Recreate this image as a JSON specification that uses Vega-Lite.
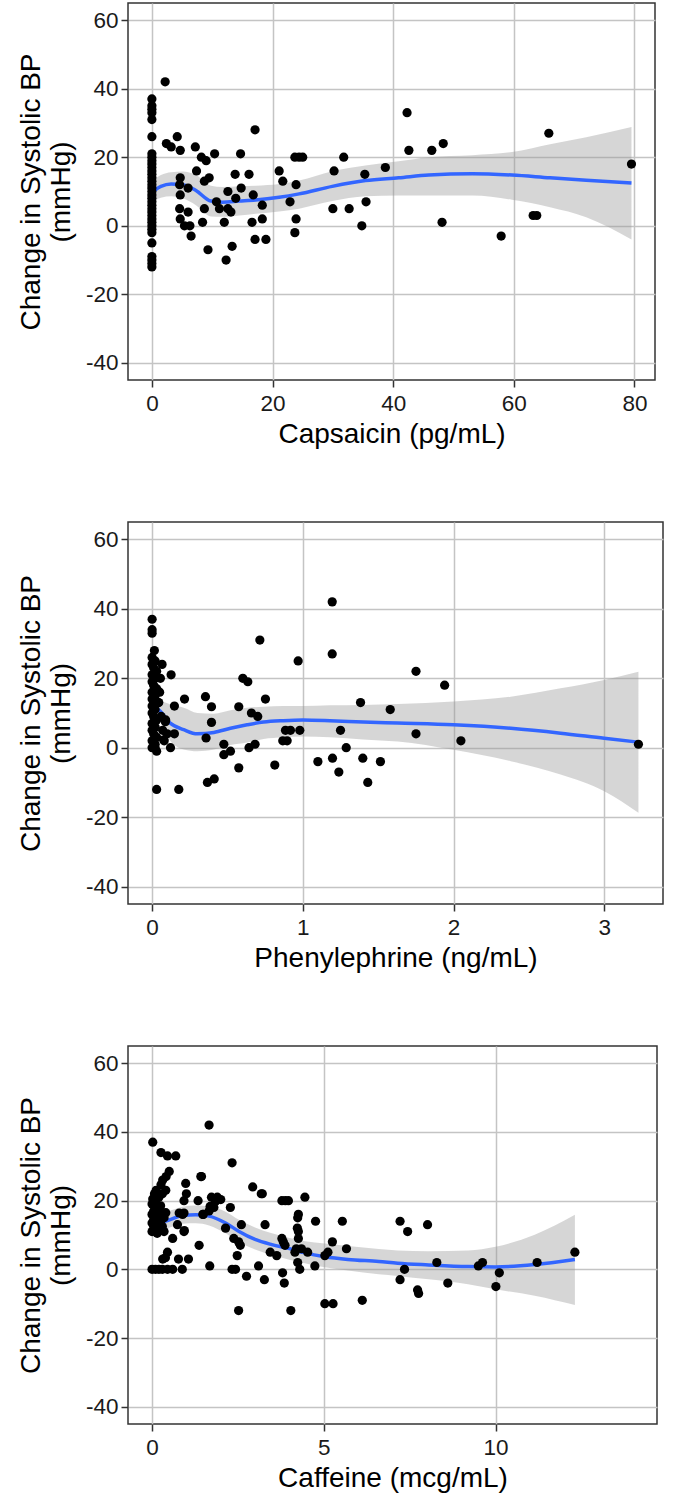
{
  "$schema": "https://vega.github.io/schema/vega-lite/v6.json",
  "background": "white",
  "padding": {"left": 16, "top": 2, "right": 5, "bottom": 5},
  "bounds": "flush",
  "spacing": 142,
  "config": {
    "font": "Liberation Sans",
    "view": {"stroke": "#333333", "strokeWidth": 1.5},
    "axis": {
      "domain": false, "grid": true, "gridColor": "#c4c4c4", "gridWidth": 1.5,
      "ticks": true, "tickColor": "#333333", "tickWidth": 1.5, "tickSize": 7,
      "labelFont": "Liberation Sans", "labelFontSize": 22.5, "labelColor": "#1a1a1a", "labelPadding": 3,
      "titleFont": "Liberation Sans", "titleFontSize": 28, "titleFontWeight": "normal", "titleColor": "#000000",
      "titleLineHeight": 30,
      "labelExpr": "replace(datum.label, '\u2212', '-')"
    },
    "axisX": {"titlePadding": 6, "labelPadding": 5},
    "axisY": {"titlePadding": 10}
  },
  "datasets": {
    "p1": [
      {"x":0,"y":37},{"x":0,"y":35},{"x":0,"y":34},{"x":0,"y":33},{"x":0,"y":31},{"x":0,"y":26},
      {"x":0,"y":21},{"x":0,"y":20},{"x":0,"y":19},{"x":0,"y":18},{"x":0,"y":17},{"x":0,"y":16},{"x":0,"y":15},
      {"x":0,"y":14},{"x":0,"y":13},{"x":0,"y":12},{"x":0,"y":11},{"x":0,"y":10},{"x":0,"y":9},{"x":0,"y":8},
      {"x":0,"y":7},{"x":0,"y":6},{"x":0,"y":5},{"x":0,"y":4},{"x":0,"y":3},{"x":0,"y":2},{"x":0,"y":1},
      {"x":0,"y":0},{"x":0,"y":-1},{"x":0,"y":-2},{"x":0,"y":-5},{"x":0,"y":-9},{"x":0,"y":-10},{"x":0,"y":-11},{"x":0,"y":-12},
      {"x":2.2,"y":42},{"x":2.4,"y":24},{"x":3.2,"y":23},{"x":4.2,"y":26},{"x":4.7,"y":22},{"x":4.7,"y":14},
      {"x":4.6,"y":12},{"x":6.0,"y":11},{"x":4.7,"y":9},{"x":4.6,"y":5},{"x":6.0,"y":4},{"x":4.7,"y":2},
      {"x":5.4,"y":0},{"x":6.3,"y":0},{"x":6.5,"y":-3},{"x":7.2,"y":23},{"x":7.4,"y":16},{"x":8.2,"y":20},
      {"x":9.0,"y":19},{"x":10.4,"y":21},{"x":8.7,"y":13},{"x":9.5,"y":14},{"x":8.7,"y":5},{"x":8.4,"y":1},
      {"x":9.3,"y":-7},{"x":10.7,"y":7},{"x":11.2,"y":5},{"x":12.0,"y":1},{"x":12.3,"y":-10},{"x":13.3,"y":-6},
      {"x":12.6,"y":10},{"x":13.1,"y":4},{"x":12.6,"y":5},{"x":13.8,"y":15},{"x":14.7,"y":21},{"x":14.8,"y":11},
      {"x":13.9,"y":8},{"x":16.1,"y":15},{"x":16.8,"y":9},{"x":17.1,"y":28},{"x":16.6,"y":1},{"x":17.1,"y":-4},
      {"x":18.3,"y":6},{"x":18.3,"y":2},{"x":18.9,"y":-4},{"x":21.1,"y":16},{"x":21.7,"y":13},{"x":22.9,"y":7},
      {"x":23.9,"y":12},{"x":23.9,"y":2},{"x":23.7,"y":-2},{"x":23.7,"y":20},{"x":24.4,"y":20},{"x":25.0,"y":20},
      {"x":30.0,"y":5},{"x":30.2,"y":16},{"x":31.8,"y":20},{"x":32.7,"y":5},{"x":34.8,"y":0},{"x":35.3,"y":15},
      {"x":35.5,"y":7},{"x":38.7,"y":17},{"x":42.3,"y":33},{"x":42.6,"y":22},{"x":46.4,"y":22},{"x":48.3,"y":24},
      {"x":48.1,"y":1},{"x":57.9,"y":-3},{"x":63.2,"y":3},{"x":63.8,"y":3},{"x":65.8,"y":27},{"x":79.5,"y":18}
    ],
    "s1": [
      {"x":0,"y":9.8,"lo":7.0,"hi":13.0},{"x":1.5,"y":11.5,"lo":8.2,"hi":14.8},{"x":3.2,"y":12.2,"lo":8.6,"hi":15.6},
      {"x":5.1,"y":12.0,"lo":8.0,"hi":15.8},{"x":7.3,"y":10.3,"lo":6.0,"hi":14.8},{"x":9.8,"y":7.2,"lo":2.7,"hi":11.7},
      {"x":11.7,"y":6.9,"lo":2.6,"hi":11.3},{"x":14.5,"y":7.2,"lo":3.0,"hi":11.5},{"x":17.2,"y":7.5,"lo":3.5,"hi":11.7},
      {"x":21.1,"y":8.3,"lo":4.2,"hi":12.2},{"x":24.4,"y":9.3,"lo":5.0,"hi":13.2},{"x":29.9,"y":11.5,"lo":7.2,"hi":15.9},
      {"x":35.4,"y":13.2,"lo":8.6,"hi":17.6},{"x":40.9,"y":14.0,"lo":8.8,"hi":18.8},{"x":45.9,"y":14.8,"lo":8.8,"hi":20.0},
      {"x":53.1,"y":15.2,"lo":8.8,"hi":20.6},{"x":59.7,"y":14.8,"lo":7.6,"hi":21.5},{"x":66,"y":14.0,"lo":5.4,"hi":23.8},
      {"x":72,"y":13.3,"lo":2.5,"hi":25.8},{"x":79.5,"y":12.5,"lo":-4.0,"hi":28.8}
    ],
    "p2": [
      {"x":0,"y":37},{"x":0,"y":34},{"x":0,"y":33},{"x":0.015,"y":28},{"x":0,"y":26},{"x":0.02,"y":25},{"x":0,"y":24},
      {"x":0.01,"y":23},{"x":0.03,"y":22},{"x":0,"y":21},{"x":0.02,"y":20},{"x":0,"y":19},{"x":0.01,"y":18},
      {"x":0.03,"y":17},{"x":0,"y":16},{"x":0.02,"y":15},{"x":0,"y":14},{"x":0.01,"y":13},{"x":0.04,"y":13},
      {"x":0,"y":12},{"x":0.02,"y":11},{"x":0,"y":10},{"x":0.01,"y":9},{"x":0.03,"y":8},{"x":0,"y":7},{"x":0.02,"y":6},
      {"x":0,"y":5},{"x":0.01,"y":4},{"x":0.03,"y":3},{"x":0,"y":2},{"x":0.02,"y":1},{"x":0,"y":0},{"x":0.03,"y":-1},
      {"x":0.02,"y":0},{"x":0.03,"y":-12},
      {"x":0.066,"y":24},{"x":0.055,"y":20},{"x":0.126,"y":21},{"x":0.148,"y":12},{"x":0.044,"y":13},{"x":0.088,"y":7.5},
      {"x":0.148,"y":4},{"x":0.122,"y":0},{"x":0.077,"y":2.3},{"x":0.177,"y":-12},{"x":0.215,"y":14},{"x":0.06,"y":9},
      {"x":0.07,"y":5},{"x":0.05,"y":16},{"x":0.09,"y":8},{"x":0.1,"y":4},{"x":0.08,"y":2},
      {"x":0.354,"y":14.7},{"x":0.394,"y":11.8},{"x":0.394,"y":7.3},{"x":0.358,"y":2.8},{"x":0.367,"y":-10},
      {"x":0.412,"y":-9},{"x":0.476,"y":1},{"x":0.476,"y":-2},{"x":0.52,"y":-1},{"x":0.575,"y":11.8},{"x":0.575,"y":-5.8},
      {"x":0.602,"y":20},{"x":0.635,"y":19},{"x":0.659,"y":10},{"x":0.701,"y":9},{"x":0.715,"y":31},{"x":0.643,"y":0},
      {"x":0.683,"y":1},{"x":0.752,"y":14},{"x":0.814,"y":-5},{"x":0.867,"y":2},{"x":0.896,"y":2},{"x":0.885,"y":5},
      {"x":0.918,"y":5},{"x":0.98,"y":5},{"x":0.969,"y":25},{"x":1.1,"y":-4},{"x":1.195,"y":42},{"x":1.195,"y":27},
      {"x":1.197,"y":-3},{"x":1.239,"y":-7},{"x":1.25,"y":5},{"x":1.288,"y":0},{"x":1.383,"y":13},{"x":1.398,"y":-3},
      {"x":1.431,"y":-10},{"x":1.515,"y":-4},{"x":1.58,"y":11},{"x":1.751,"y":22},{"x":1.751,"y":4},{"x":1.941,"y":18},
      {"x":2.049,"y":2},{"x":3.227,"y":1}
    ],
    "s2": [
      {"x":0,"y":12.0,"lo":9.0,"hi":15.0},{"x":0.044,"y":10.9,"lo":8.0,"hi":13.8},{"x":0.12,"y":7.1,"lo":2.0,"hi":12.5},
      {"x":0.21,"y":5.2,"lo":-0.5,"hi":11.5},{"x":0.3,"y":4.0,"lo":-1.0,"hi":10.0},{"x":0.41,"y":4.4,"lo":-0.5,"hi":9.8},
      {"x":0.52,"y":5.6,"lo":0.8,"hi":10.8},{"x":0.63,"y":6.6,"lo":1.5,"hi":11.5},{"x":0.74,"y":7.4,"lo":2.5,"hi":11.8},
      {"x":0.87,"y":7.8,"lo":3.0,"hi":12.0},{"x":1.0,"y":8.0,"lo":3.2,"hi":12.0},{"x":1.18,"y":7.8,"lo":3.0,"hi":12.2},
      {"x":1.4,"y":7.4,"lo":2.4,"hi":12.3},{"x":1.63,"y":7.1,"lo":1.8,"hi":12.6},{"x":2.0,"y":6.6,"lo":-0.6,"hi":13.3},
      {"x":2.38,"y":5.6,"lo":-3.9,"hi":14.7},{"x":2.71,"y":4.2,"lo":-7.7,"hi":17.1},{"x":3.0,"y":2.7,"lo":-12.5,"hi":19.5},
      {"x":3.227,"y":1.6,"lo":-18.7,"hi":21.9}
    ],
    "p3": [
      {"x":0.02,"y":37},{"x":0.26,"y":34},{"x":0.45,"y":33},{"x":0.69,"y":33},{"x":0.5,"y":28.5},{"x":0.41,"y":27},
      {"x":0.31,"y":26},{"x":0.26,"y":24.6},{"x":0.12,"y":23},{"x":0.07,"y":22},{"x":0.02,"y":20.5},
      {"x":0,"y":19},{"x":0.1,"y":18},{"x":0.2,"y":17.5},{"x":0.05,"y":17},{"x":0.3,"y":16.5},{"x":0,"y":16},
      {"x":0.15,"y":15.5},{"x":0.35,"y":15},{"x":0.05,"y":14.5},{"x":0.25,"y":14},{"x":0,"y":13.5},{"x":0.1,"y":13},
      {"x":0.3,"y":12.5},{"x":0.05,"y":12},{"x":0.2,"y":11.5},{"x":0,"y":11},{"x":0.15,"y":10.5},{"x":0.35,"y":11},
      {"x":0.1,"y":20},{"x":0.2,"y":21},{"x":0.3,"y":22},{"x":0.4,"y":23},{"x":0.25,"y":18.5},{"x":0.4,"y":16.5},
      {"x":0,"y":0},{"x":0.1,"y":0},{"x":0.2,"y":0},{"x":0.3,"y":0},{"x":0.45,"y":0},{"x":0.6,"y":0},{"x":0.88,"y":0},
      {"x":0.31,"y":3},{"x":0.45,"y":5},{"x":0.39,"y":3.4},{"x":0.6,"y":9},{"x":0.74,"y":13},{"x":0.79,"y":16.4},
      {"x":0.93,"y":16.4},{"x":0.93,"y":11},{"x":0.98,"y":25},{"x":1.0,"y":22},{"x":0.93,"y":20},{"x":0.77,"y":3},
      {"x":1.06,"y":3},{"x":1.37,"y":7},{"x":1.34,"y":20},{"x":1.44,"y":27},{"x":1.48,"y":16},{"x":1.66,"y":42},
      {"x":1.68,"y":1},{"x":1.8,"y":18},{"x":1.9,"y":21},{"x":1.85,"y":19.8},{"x":2.0,"y":20.3},{"x":2.14,"y":12},
      {"x":2.28,"y":18},{"x":2.33,"y":31},{"x":2.6,"y":13},{"x":2.38,"y":9},{"x":2.52,"y":8},{"x":2.57,"y":7},
      {"x":2.48,"y":4},{"x":2.33,"y":0},{"x":2.43,"y":0},{"x":2.52,"y":-12},{"x":2.75,"y":-2},{"x":2.93,"y":24},
      {"x":3.18,"y":22},{"x":3.29,"y":13},{"x":3.1,"y":1},{"x":3.27,"y":-3},{"x":3.44,"y":5},{"x":3.63,"y":4},
      {"x":3.78,"y":9},{"x":3.82,"y":8},{"x":3.87,"y":7},{"x":3.78,"y":20},{"x":3.88,"y":20},{"x":3.97,"y":20},
      {"x":3.8,"y":-1},{"x":3.85,"y":-4},{"x":4.04,"y":-12},{"x":4.26,"y":16},{"x":4.24,"y":15},{"x":4.23,"y":12},
      {"x":4.26,"y":11},{"x":4.26,"y":9},{"x":4.2,"y":6},{"x":4.16,"y":5},{"x":4.24,"y":2},{"x":4.3,"y":0},
      {"x":4.45,"y":21},{"x":4.35,"y":6},{"x":4.53,"y":5},{"x":4.74,"y":1},{"x":4.76,"y":14},{"x":5.03,"y":-10},
      {"x":5.27,"y":-10},{"x":5.03,"y":4},{"x":5.12,"y":5},{"x":5.25,"y":8},{"x":5.54,"y":14},{"x":5.66,"y":6},
      {"x":6.12,"y":-9},{"x":3.21,"y":22},{"x":0.94,"y":11.3},{"x":1.49,"y":16},{"x":1.73,"y":21},{"x":1.69,"y":18.3},
      {"x":1.66,"y":17},{"x":0.89,"y":16},{"x":1.42,"y":27},{"x":7.22,"y":14},{"x":7.44,"y":11},{"x":8.02,"y":13},
      {"x":7.35,"y":0},{"x":7.22,"y":-3},{"x":7.73,"y":-6},{"x":7.76,"y":-7},{"x":8.29,"y":2},{"x":8.61,"y":-4},
      {"x":9.5,"y":1},{"x":9.62,"y":2},{"x":10.11,"y":-1},{"x":10.01,"y":-5},{"x":11.21,"y":2},{"x":12.31,"y":5}
    ],
    "s3": [
      {"x":0,"y":13.5,"lo":11.0,"hi":16.0},{"x":0.45,"y":14.2,"lo":12.0,"hi":16.9},{"x":0.89,"y":15.7,"lo":13.3,"hi":18.2},
      {"x":1.27,"y":15.9,"lo":13.4,"hi":18.6},{"x":1.66,"y":15.5,"lo":12.8,"hi":18.3},{"x":2.14,"y":13.5,"lo":10.5,"hi":16.8},
      {"x":2.52,"y":11.1,"lo":8.0,"hi":14.5},{"x":3.0,"y":8.7,"lo":5.8,"hi":12.2},{"x":3.49,"y":7.2,"lo":4.2,"hi":10.5},
      {"x":3.97,"y":6.1,"lo":2.9,"hi":9.2},{"x":4.45,"y":4.8,"lo":1.8,"hi":8.2},{"x":5.03,"y":3.7,"lo":0.6,"hi":7.5},
      {"x":5.7,"y":2.9,"lo":-0.3,"hi":6.8},{"x":6.6,"y":2.3,"lo":-1.4,"hi":5.9},{"x":7.15,"y":1.8,"lo":-1.9,"hi":5.5},
      {"x":8.05,"y":1.3,"lo":-2.9,"hi":5.3},{"x":9.2,"y":0.8,"lo":-4.3,"hi":5.5},{"x":10.0,"y":0.7,"lo":-5.8,"hi":6.6},
      {"x":11.14,"y":1.4,"lo":-7.7,"hi":10.1},{"x":12.31,"y":2.9,"lo":-10.4,"hi":15.9}
    ]
  },
  "vconcat": [
    {
      "width": 527, "height": 377,
      "encoding": {
        "x": {"field": "x", "type": "quantitative", "title": "Capsaicin (pg/mL)",
              "scale": {"domain": [-3.96, 83.4], "nice": false, "zero": false},
              "axis": {"values": [0, 20, 40, 60, 80]}}
      },
      "layer": [
        {"data": {"name": "s1"}, "mark": {"type": "area", "color": "#999999", "opacity": 0.4, "interpolate": "monotone", "clip": true},
         "encoding": {"y": {"field": "lo", "type": "quantitative", "title": ["Change in Systolic BP", "(mmHg)"],
                            "scale": {"domain": [-45, 65], "nice": false, "zero": false},
                            "axis": {"values": [-40, -20, 0, 20, 40, 60]}},
                      "y2": {"field": "hi"}}},
        {"data": {"name": "s1"}, "mark": {"type": "line", "color": "#3366FF", "strokeWidth": 3.5, "interpolate": "monotone", "clip": true},
         "encoding": {"y": {"field": "y", "type": "quantitative", "title": ["Change in Systolic BP", "(mmHg)"],
                            "scale": {"domain": [-45, 65], "nice": false, "zero": false}}}},
        {"data": {"name": "p1"}, "mark": {"type": "circle", "color": "#000000", "opacity": 1, "size": 85},
         "encoding": {"y": {"field": "y", "type": "quantitative", "title": ["Change in Systolic BP", "(mmHg)"],
                            "scale": {"domain": [-45, 65], "nice": false, "zero": false}}}}
      ]
    },
    {
      "width": 535, "height": 382,
      "encoding": {
        "x": {"field": "x", "type": "quantitative", "title": "Phenylephrine (ng/mL)",
              "scale": {"domain": [-0.16, 3.39], "nice": false, "zero": false},
              "axis": {"values": [0, 1, 2, 3]}}
      },
      "layer": [
        {"data": {"name": "s2"}, "mark": {"type": "area", "color": "#999999", "opacity": 0.4, "interpolate": "monotone", "clip": true},
         "encoding": {"y": {"field": "lo", "type": "quantitative", "title": ["Change in Systolic BP", "(mmHg)"],
                            "scale": {"domain": [-45, 65], "nice": false, "zero": false},
                            "axis": {"values": [-40, -20, 0, 20, 40, 60]}},
                      "y2": {"field": "hi"}}},
        {"data": {"name": "s2"}, "mark": {"type": "line", "color": "#3366FF", "strokeWidth": 3.5, "interpolate": "monotone", "clip": true},
         "encoding": {"y": {"field": "y", "type": "quantitative", "title": ["Change in Systolic BP", "(mmHg)"],
                            "scale": {"domain": [-45, 65], "nice": false, "zero": false}}}},
        {"data": {"name": "p2"}, "mark": {"type": "circle", "color": "#000000", "opacity": 1, "size": 85},
         "encoding": {"y": {"field": "y", "type": "quantitative", "title": ["Change in Systolic BP", "(mmHg)"],
                            "scale": {"domain": [-45, 65], "nice": false, "zero": false}}}}
      ]
    },
    {
      "width": 529, "height": 378,
      "encoding": {
        "x": {"field": "x", "type": "quantitative", "title": "Caffeine (mcg/mL)",
              "scale": {"domain": [-0.7, 14.7], "nice": false, "zero": false},
              "axis": {"values": [0, 5, 10]}}
      },
      "layer": [
        {"data": {"name": "s3"}, "mark": {"type": "area", "color": "#999999", "opacity": 0.4, "interpolate": "monotone", "clip": true},
         "encoding": {"y": {"field": "lo", "type": "quantitative", "title": ["Change in Systolic BP", "(mmHg)"],
                            "scale": {"domain": [-45, 65], "nice": false, "zero": false},
                            "axis": {"values": [-40, -20, 0, 20, 40, 60]}},
                      "y2": {"field": "hi"}}},
        {"data": {"name": "s3"}, "mark": {"type": "line", "color": "#3366FF", "strokeWidth": 3.5, "interpolate": "monotone", "clip": true},
         "encoding": {"y": {"field": "y", "type": "quantitative", "title": ["Change in Systolic BP", "(mmHg)"],
                            "scale": {"domain": [-45, 65], "nice": false, "zero": false}}}},
        {"data": {"name": "p3"}, "mark": {"type": "circle", "color": "#000000", "opacity": 1, "size": 85},
         "encoding": {"y": {"field": "y", "type": "quantitative", "title": ["Change in Systolic BP", "(mmHg)"],
                            "scale": {"domain": [-45, 65], "nice": false, "zero": false}}}}
      ]
    }
  ]
}
